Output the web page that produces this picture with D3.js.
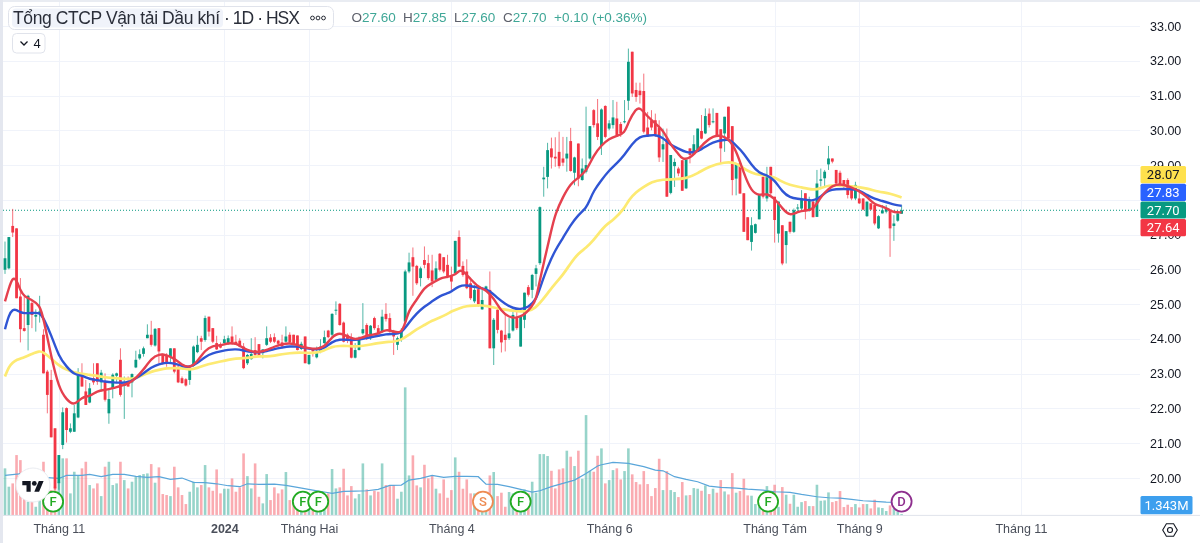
<!DOCTYPE html>
<html lang="vi">
<head>
<meta charset="UTF-8">
<title>Tổng CTCP Vận tải Dầu khí</title>
<script src="https://d3js.org/d3.v7.min.js"></script>
<style>
    html, body { margin: 0; padding: 0; background: #fff; overflow: hidden; }
    svg { display: block; font-family: Roboto, Arial, sans-serif; filter: blur(0.35px); }
    .axis text { fill: #131722; font-size: 12.5px; }
    .axis path, .axis line { display: none; }
    .time text { fill: #4a4f5a; font-size: 12.5px; }
    .grid { stroke: #f0f3fa; stroke-width: 1; }
</style>
</head>
<body>
<svg width="1200" height="543"></svg>
<script>
    const opens = [
        25.99,26.03,27.25,27.18,25.22,24.31,24.40,25.03,24.64,24.74,
        24.12,23.06,22.82,21.43,19.85,20.95,22.01,21.33,21.33,21.74,
        23.01,22.49,22.17,22.87,23.30,22.75,22.77,21.86,22.58,22.94,
        23.40,22.65,22.77,22.75,23.18,23.44,23.57,24.02,24.12,23.81,
        24.31,23.54,23.52,23.49,23.73,23.20,22.87,22.84,22.82,23.23,
        23.62,24.02,23.97,24.64,24.31,23.88,23.85,23.88,23.88,24.07,
        23.92,23.95,23.78,23.30,23.42,23.68,23.85,23.59,23.83,24.04,
        24.05,23.95,23.90,23.92,24.12,24.12,24.10,23.71,24.07,23.28,
        23.71,23.47,23.64,23.88,24.24,24.12,24.82,25.01,24.47,24.12,
        24.05,23.46,23.68,24.16,24.40,24.02,24.60,24.31,24.21,24.72,
        24.60,24.21,23.83,23.97,24.50,25.94,26.35,26.10,25.75,26.27,
        26.18,25.97,25.70,26.45,26.35,26.13,25.84,25.89,26.93,26.10,
        25.94,25.60,25.08,25.43,24.85,25.41,25.41,23.73,24.84,24.24,
        24.12,24.02,24.24,24.60,23.78,24.55,25.49,25.41,25.87,26.18,
        28.59,28.66,29.48,29.24,29.38,29.19,29.19,29.69,28.78,29.62,
        28.57,28.81,29.19,30.58,30.20,29.55,30.70,30.05,30.15,30.34,
        30.18,30.24,30.85,32.26,31.16,31.14,31.13,30.08,30.29,30.29,
        30.08,29.45,29.76,28.20,28.97,28.90,29.14,28.33,29.48,29.31,
        29.38,29.98,29.91,30.48,30.24,30.50,30.03,29.91,30.68,30.12,
        28.61,29.05,28.19,27.50,26.79,27.05,27.44,28.66,28.04,28.95,
        28.09,27.03,27.27,26.70,27.37,27.08,27.75,27.75,28.19,27.70,
        27.95,27.51,28.55,28.62,29.02,29.19,28.86,28.78,28.57,28.57,
        28.38,28.04,28.04,28.04,27.53,27.90,27.85,27.18,27.61,27.66,
        27.69,27.25,27.40,27.60
    ];
    const highs = [
        26.80,26.93,27.74,27.18,25.75,25.22,25.27,25.08,24.85,25.24,
        24.28,23.11,23.11,21.43,20.66,22.03,22.03,21.57,22.10,23.16,
        23.30,22.82,22.73,23.30,23.30,23.11,23.01,22.53,23.01,23.03,
        23.73,22.92,22.92,23.01,23.66,23.70,23.78,24.42,24.52,24.31,
        24.31,23.59,23.59,23.73,23.73,23.25,22.92,22.87,23.20,23.81,
        24.09,24.09,24.67,24.64,24.31,24.09,23.90,24.09,24.10,24.36,
        24.12,24.02,23.88,23.57,24.02,24.05,23.85,23.70,24.36,24.14,
        24.16,23.97,24.12,24.36,24.19,24.12,24.10,23.92,24.07,23.54,
        23.73,23.78,23.99,24.24,24.26,24.74,25.08,25.03,24.50,24.16,
        24.16,23.88,24.07,25.03,24.45,24.40,24.64,24.40,24.84,25.03,
        24.74,24.26,24.07,24.31,25.99,26.48,26.63,26.13,26.08,26.66,
        26.42,26.42,26.23,26.47,26.35,26.42,26.08,26.82,27.12,26.23,
        26.29,25.70,25.55,25.46,25.41,25.53,25.94,24.60,24.88,24.26,
        24.69,24.60,24.84,24.84,24.69,25.33,25.55,25.87,26.13,27.81,
        28.95,29.64,29.79,29.80,29.96,29.81,29.81,30.07,29.24,29.62,
        29.19,30.68,30.12,30.61,30.90,30.63,30.72,30.29,30.87,30.82,
        30.24,30.87,32.35,32.26,31.37,31.37,31.63,30.53,30.58,30.48,
        30.29,30.05,30.05,29.29,29.19,28.95,29.14,29.16,29.48,29.86,
        30.05,30.44,30.63,30.63,30.63,30.50,30.03,30.39,30.68,30.12,
        29.05,29.05,28.19,27.50,27.50,27.32,28.14,28.71,28.95,28.95,
        28.09,27.95,27.27,27.10,27.37,27.75,27.88,28.28,28.19,28.09,
        27.99,28.86,28.90,28.86,29.55,29.19,28.86,28.84,28.57,28.62,
        28.38,28.52,28.30,28.04,27.95,27.90,27.85,27.56,27.85,27.85,
        27.69,27.56,27.63,27.85
    ];
    const lows = [
        25.87,26.00,26.93,25.17,23.90,24.21,23.67,24.31,24.21,24.47,
        23.01,21.86,21.17,19.66,19.66,20.83,21.02,21.29,21.33,21.72,
        22.63,22.10,22.15,22.68,22.68,22.49,22.20,21.56,22.29,22.73,
        22.34,21.70,22.63,22.32,23.16,23.40,23.49,24.02,23.78,23.78,
        23.30,23.25,23.20,23.30,23.01,22.73,22.71,22.63,22.68,23.20,
        23.59,23.68,23.92,24.07,23.88,23.68,23.73,23.83,23.83,23.83,
        23.83,23.76,23.13,23.25,23.40,23.49,23.49,23.44,23.80,23.88,
        23.88,23.78,23.73,23.90,23.88,23.83,23.67,23.68,23.30,23.25,
        23.49,23.44,23.59,23.86,24.02,24.05,24.69,24.38,23.90,23.88,
        23.44,23.44,23.67,24.12,23.97,23.97,24.26,24.12,24.18,24.50,
        24.18,23.54,23.68,23.92,24.45,25.89,25.24,25.55,25.51,26.03,
        25.70,25.49,25.68,25.94,25.89,25.75,25.41,25.84,26.08,25.79,
        25.43,25.12,25.03,24.93,24.84,25.36,23.73,23.25,24.16,23.61,
        23.64,23.97,24.21,24.26,23.78,24.31,25.22,25.17,25.51,26.13,
        28.09,28.33,28.90,28.95,28.90,28.97,28.81,28.81,28.42,28.39,
        28.55,28.76,29.16,30.08,29.72,29.29,29.77,30.00,30.05,29.81,
        29.81,30.20,30.58,30.96,30.82,30.77,29.91,29.81,30.00,29.81,
        29.09,29.09,28.09,28.16,28.37,28.68,28.26,28.31,29.05,29.29,
        29.38,29.74,29.89,30.08,30.20,29.81,29.05,29.38,29.72,28.13,
        28.13,28.18,27.08,26.84,26.54,27.03,27.44,28.04,27.95,28.14,
        26.77,26.77,26.12,26.17,27.03,27.05,27.66,27.70,27.44,27.66,
        27.50,27.51,28.38,28.38,28.86,29.05,28.43,28.38,28.33,28.04,
        27.99,27.99,27.88,27.70,27.51,27.70,27.27,27.16,27.61,27.61,
        26.36,26.82,27.37,27.60
    ];
    const closes = [
        26.32,26.93,27.06,25.17,24.28,24.23,25.24,24.69,24.69,24.79,
        23.01,22.39,21.17,19.70,20.66,21.89,21.38,21.43,21.86,23.01,
        22.63,22.10,22.58,22.75,22.77,23.03,22.25,22.27,22.97,23.01,
        22.39,22.68,22.63,22.99,23.40,23.56,23.73,24.12,23.83,24.29,
        23.64,23.30,23.28,23.73,23.06,22.75,22.73,22.66,23.16,23.78,
        23.83,23.92,24.60,24.21,23.92,23.70,23.75,23.99,24.02,23.90,
        23.83,23.78,23.16,23.54,23.57,23.54,23.51,23.70,24.02,23.92,
        23.92,23.86,23.78,24.07,23.90,23.86,23.68,23.86,23.30,23.54,
        23.64,23.61,23.78,24.05,24.05,24.72,24.84,24.40,23.92,23.97,
        23.46,23.68,24.02,24.28,24.02,24.38,24.31,24.16,24.64,24.57,
        24.21,24.07,24.02,24.21,25.94,26.20,26.08,25.60,26.03,26.13,
        25.75,25.65,26.03,25.99,25.94,25.79,25.65,26.82,26.08,25.84,
        25.46,25.17,25.41,24.98,25.12,25.51,23.73,24.55,24.26,23.90,
        23.97,24.16,24.69,24.31,24.66,25.33,25.27,25.84,26.03,27.79,
        28.64,29.43,29.22,29.19,28.97,29.07,29.33,28.83,29.22,28.61,
        28.90,29.00,30.12,30.15,29.81,30.60,29.81,30.20,30.37,29.86,
        29.91,30.26,31.97,31.06,30.96,31.01,29.96,29.83,30.08,29.88,
        29.22,29.60,28.09,29.29,29.09,28.76,28.26,29.16,29.29,29.60,
        30.05,29.76,30.41,30.15,30.26,29.86,29.48,30.39,29.76,28.57,
        29.03,28.18,27.08,26.84,27.27,27.30,28.14,28.09,28.66,28.19,
        27.42,27.95,26.17,27.10,27.08,27.70,27.78,28.04,27.70,27.99,
        27.50,28.47,28.59,28.81,29.19,29.10,28.47,28.43,28.38,28.14,
        28.04,28.43,27.90,27.72,27.95,27.72,27.32,27.53,27.70,27.75,
        27.18,27.32,27.61,27.70
    ];
    // million shares
    const volumes = [
        4.85,2.96,3.30,6.22,5.70,1.75,1.41,2.61,0.89,1.58,
        5.53,2.96,2.61,2.96,3.47,5.88,5.88,2.27,4.50,4.16,
        4.85,5.53,3.13,2.78,3.30,1.99,5.02,5.53,3.13,3.30,
        5.53,3.64,2.78,3.47,3.99,4.16,4.26,4.33,5.29,3.37,
        4.95,2.20,2.10,1.99,5.02,2.89,2.10,1.17,2.44,3.47,
        2.89,3.13,5.19,2.89,2.54,4.74,2.27,2.75,2.75,3.81,
        2.44,2.89,6.39,4.05,2.78,5.36,1.92,1.24,4.26,1.58,
        2.89,2.27,2.68,4.47,1.58,1.75,1.58,1.41,1.58,1.41,
        1.41,0.89,1.07,0.55,2.27,4.78,2.78,2.89,4.81,2.06,
        3.02,1.75,2.20,5.36,2.68,2.06,2.54,2.44,5.36,3.13,
        3.02,3.13,1.72,2.44,13.2,4.12,6.19,3.09,2.89,5.22,
        3.81,4.16,2.75,2.27,3.71,1.82,2.61,5.98,4.50,2.75,
        3.71,2.27,2.27,1.75,1.58,1.92,4.12,4.47,1.99,2.34,
        0.89,2.41,2.27,1.58,1.58,2.68,2.27,3.47,2.34,6.32,
        6.32,6.12,4.60,2.78,4.74,4.85,6.67,6.05,5.09,6.67,
        3.78,10.34,4.60,4.50,6.15,6.91,3.30,3.64,4.67,4.85,
        3.71,4.57,6.91,4.23,3.44,3.20,4.57,3.23,1.99,2.82,
        5.84,2.61,4.57,2.61,2.41,1.89,3.44,2.06,2.10,2.82,
        2.75,2.54,3.09,2.20,2.75,2.34,3.64,2.47,2.16,4.36,
        2.34,2.51,3.78,2.06,2.03,1.17,0.89,0.48,3.02,0.38,
        3.16,0.89,2.92,2.13,1.20,2.13,0.89,1.37,1.48,0.96,
        0.96,3.16,1.51,1.55,2.37,1.37,1.48,2.51,0.86,1.10,
        0.86,1.17,0.82,1.17,1.17,0.72,1.62,0.82,0.76,0.45,
        1.03,0.72,0.38,0.14
    ];

    // moving averages, read as [bar, value] off the picture
    const maFast = [[0,25.08],[1,25.46],[2,25.78],[3,25.70],[4,25.39],[5,25.22],[7,25.12],[9,24.98],[10,24.60],[12,23.49],[14,22.58],[16,22.25],[18,22.07],[20,22.34],[22,22.34],[24,22.51],[26,22.53],[28,22.58],[30,22.65],[32,22.70],[34,22.87],[36,23.11],[38,23.44],[40,23.57],[42,23.54],[44,23.44],[46,23.25],[48,23.16],[50,23.35],[52,23.68],[54,23.81],[56,23.81],[58,23.88],[60,23.88],[62,23.73],[64,23.64],[66,23.61],[68,23.68],[70,23.78],[72,23.85],[74,23.88],[76,23.83],[77,23.78],[79,23.73],[81,23.71],[83,23.76],[85,24.07],[87,24.19],[89,24.07],[91,23.97],[93,24.05],[95,24.12],[97,24.14],[99,24.28],[101,24.21],[103,24.16],[104,24.45],[105,24.84],[107,25.12],[109,25.49],[111,25.60],[113,25.75],[115,25.78],[117,25.84],[118,25.97],[119,25.97],[121,25.72],[123,25.49],[125,25.41],[127,25.17],[129,24.79],[131,24.62],[133,24.60],[135,24.69],[137,24.95],[138,25.12],[139,25.70],[140,26.18],[142,27.14],[143,27.60],[145,28.09],[147,28.47],[149,28.64],[151,28.81],[153,29.29],[155,29.57],[157,29.76],[159,29.84],[161,29.91],[162,30.24],[164,30.63],[165,30.66],[167,30.39],[169,30.20],[171,30.01],[173,29.57],[175,29.33],[176,29.16],[178,29.19],[180,29.43],[182,29.67],[184,29.83],[186,29.86],[188,29.76],[190,29.43],[192,28.76],[194,28.23],[196,28.12],[198,28.19],[200,28.04],[202,27.75],[204,27.53],[206,27.66],[208,27.70],[210,27.70],[212,28.09],[214,28.33],[216,28.45],[218,28.44],[220,28.36],[222,28.25],[224,28.09],[226,27.85],[228,27.82],[230,27.70],[231,27.64],[233,27.64]];
    const maMid = [[0,24.28],[1,24.69],[2,24.85],[3,24.84],[4,24.76],[5,24.74],[7,24.74],[9,24.77],[10,24.60],[12,24.12],[14,23.49],[16,23.20],[18,22.97],[20,22.95],[22,22.84],[24,22.82],[26,22.77],[28,22.75],[30,22.74],[32,22.74],[34,22.87],[36,23.01],[38,23.18],[40,23.28],[42,23.32],[44,23.30],[46,23.22],[48,23.18],[50,23.30],[52,23.49],[54,23.59],[56,23.64],[58,23.69],[60,23.71],[62,23.67],[64,23.62],[66,23.61],[68,23.65],[70,23.71],[72,23.75],[74,23.79],[76,23.78],[77,23.76],[81,23.68],[83,23.73],[85,23.92],[87,23.99],[89,23.97],[91,23.97],[93,24.00],[95,24.05],[97,24.09],[99,24.14],[101,24.14],[103,24.16],[105,24.47],[107,24.74],[109,24.93],[111,25.08],[113,25.24],[115,25.31],[116,25.36],[118,25.53],[120,25.55],[122,25.49],[124,25.46],[126,25.39],[128,25.17],[130,25.01],[132,24.88],[134,24.85],[136,24.91],[138,25.12],[139,25.46],[141,26.08],[143,26.56],[145,26.90],[147,27.28],[149,27.57],[151,27.76],[152,28.00],[153,28.26],[155,28.57],[157,28.85],[159,29.05],[161,29.29],[163,29.62],[165,29.83],[167,29.84],[169,29.88],[171,29.79],[173,29.57],[175,29.48],[177,29.36],[179,29.36],[181,29.45],[183,29.60],[185,29.69],[187,29.72],[188,29.75],[190,29.57],[192,29.34],[194,29.00],[196,28.76],[198,28.71],[200,28.57],[202,28.23],[204,28.06],[206,28.03],[208,28.01],[210,27.96],[212,28.09],[214,28.28],[216,28.31],[218,28.31],[220,28.31],[222,28.28],[224,28.14],[226,28.02],[228,27.97],[230,27.90],[231,27.86],[233,27.83]];
    const maSlow = [[0,22.92],[1,23.20],[2,23.32],[3,23.40],[5,23.47],[7,23.57],[9,23.66],[10,23.61],[12,23.44],[14,23.23],[16,23.11],[18,23.03],[20,22.99],[22,22.97],[24,22.94],[26,22.89],[28,22.88],[30,22.86],[32,22.84],[34,22.87],[36,22.97],[38,23.06],[40,23.11],[42,23.16],[44,23.16],[46,23.16],[48,23.11],[50,23.16],[52,23.25],[54,23.30],[56,23.35],[58,23.40],[60,23.44],[62,23.44],[64,23.47],[66,23.51],[68,23.49],[70,23.52],[72,23.56],[74,23.59],[76,23.61],[81,23.59],[83,23.67],[85,23.78],[87,23.80],[89,23.80],[91,23.78],[93,23.80],[95,23.84],[97,23.88],[99,23.91],[101,23.92],[103,23.97],[105,24.12],[107,24.28],[109,24.40],[111,24.53],[113,24.61],[115,24.72],[116,24.79],[118,24.88],[120,24.95],[122,24.96],[124,24.97],[126,24.93],[128,24.88],[130,24.84],[132,24.81],[134,24.79],[136,24.79],[138,24.91],[139,25.03],[141,25.31],[143,25.60],[145,25.84],[147,26.18],[149,26.47],[151,26.61],[153,26.85],[154,26.99],[156,27.27],[158,27.41],[161,27.75],[162,27.99],[164,28.23],[166,28.37],[168,28.52],[171,28.59],[174,28.59],[177,28.61],[180,28.76],[183,28.97],[187,29.09],[190,29.07],[192,28.90],[194,28.78],[196,28.71],[200,28.66],[201,28.57],[204,28.42],[207,28.36],[210,28.28],[212,28.33],[214,28.42],[217,28.42],[221,28.38],[224,28.33],[227,28.23],[230,28.19],[233,28.07]];
    const maVolume = [[0,4.12],[5,4.33],[10,3.92],[14,3.81],[16,4.12],[20,4.12],[22,4.23],[25,3.99],[28,4.23],[31,4.23],[34,4.02],[37,3.92],[40,3.99],[43,3.71],[46,3.85],[49,3.40],[52,3.37],[55,3.26],[58,3.06],[61,2.96],[63,3.26],[66,3.20],[70,3.23],[73,3.09],[76,2.89],[80,2.61],[83,2.41],[85,2.27],[88,2.47],[91,2.51],[94,2.54],[97,2.68],[100,3.09],[103,3.13],[105,3.64],[108,3.81],[111,4.12],[114,3.92],[117,4.02],[120,4.02],[123,3.99],[125,3.23],[128,3.20],[131,2.96],[134,2.68],[137,2.41],[139,2.54],[142,2.96],[145,3.30],[148,3.64],[151,4.33],[154,5.09],[155,5.22],[158,5.46],[162,5.36],[166,5.02],[169,4.67],[171,4.60],[174,3.99],[177,3.71],[180,3.47],[183,3.02],[186,2.89],[190,2.82],[193,2.71],[197,2.61],[200,2.44],[204,2.37],[207,2.16],[211,1.92],[214,1.82],[217,1.79],[220,1.65],[223,1.51],[226,1.44],[229,1.37],[233,1.343]];

    const priceTicks = [20,21,22,23,24,25,26,27,28,29,30,31,32,33];
    // 28.00 sits fully behind the value tags in the reference
    const priceLabels = [20,21,22,23,24,25,26,27,29,30,31,32,33];
    const timeBars = [14,57,79,116,157,200,222,264];
    const timeLabels = ["Tháng 11","2024","Tháng Hai","Tháng 4","Tháng 6","Tháng Tám","Tháng 9","Tháng 11"];
    const eventBars = [12.5,77.4,81.4,124.2,134,198.3,233];
    const eventLetters = ["F","F","F","S","F","F","D"];
    const lastLabels = ["28.07","27.83","27.70","27.64"];
    const legendKeys = ["O","H","L","C"];
    const legendValues = ["27.60","27.85","27.60","27.70"];

    const UP = "#089981", DOWN = "#f23645";
    const paneRight = 1140, paneBottom = 515.4;

    const svg = d3.select("svg");
    const x = d3.scaleLinear().domain([0, 233]).range([5, 901.6]);
    const y = d3.scaleLinear().domain([20, 33]).range([478, 26]);
    const yVol = d3.scaleLinear().domain([0, 1]).range([paneBottom, paneBottom - 9.7]);
    const bars = d3.range(opens.length);
    const isUp = i => closes[i] >= opens[i];

    // page edges
    svg.append("rect").attr("width", 1200).attr("height", 2).attr("fill", "#e9ecf2");
    svg.append("rect").attr("width", 3).attr("height", 543).attr("fill", "#e4e7ef");

    // grid
    svg.append("g").selectAll("line").data(priceTicks).join("line")
        .attr("class", "grid")
        .attr("x1", 3).attr("x2", paneRight)
        .attr("y1", d => Math.round(y(d)) + 0.5).attr("y2", d => Math.round(y(d)) + 0.5);
    svg.append("g").selectAll("line").data(timeBars).join("line")
        .attr("class", "grid")
        .attr("y1", 2).attr("y2", paneBottom)
        .attr("x1", d => Math.round(x(d)) + 0.5).attr("x2", d => Math.round(x(d)) + 0.5);

    // volume
    svg.append("g").selectAll("rect").data(bars).join("rect")
        .attr("x", i => x(i) - 1.3)
        .attr("width", 2.6)
        .attr("y", i => yVol(volumes[i]))
        .attr("height", i => paneBottom - yVol(volumes[i]))
        .attr("fill", i => isUp(i) ? UP : DOWN)
        .attr("fill-opacity", 0.42);

    svg.append("path").datum(maVolume)
        .attr("fill", "none").attr("stroke", "#5aa6da").attr("stroke-width", 1.2)
        .attr("d", d3.line().x(d => x(d[0])).y(d => yVol(d[1])));

    // last price line
    svg.append("line")
        .attr("x1", 3).attr("x2", paneRight)
        .attr("y1", y(27.7)).attr("y2", y(27.7))
        .attr("stroke", UP).attr("stroke-width", 1).attr("stroke-dasharray", "1 2");

    // candles
    const candles = svg.append("g").selectAll("g").data(bars).join("g");
    candles.append("line")
        .attr("x1", i => x(i)).attr("x2", i => x(i))
        .attr("y1", i => y(highs[i])).attr("y2", i => y(lows[i]))
        .attr("stroke", i => isUp(i) ? UP : DOWN)
        .attr("stroke-width", 1).attr("stroke-opacity", 0.7);
    candles.append("rect")
        .attr("x", i => x(i) - 1.4)
        .attr("width", 2.8)
        .attr("y", i => y(Math.max(opens[i], closes[i])))
        .attr("height", i => Math.max(1, Math.abs(y(opens[i]) - y(closes[i]))))
        .attr("fill", i => isUp(i) ? UP : DOWN);

    // moving averages
    const maLine = d3.line().x(d => x(d[0])).y(d => y(d[1])).curve(d3.curveBasis);
    [[maSlow, "#fdea72", 2.7], [maMid, "#2f55d4", 2.4], [maFast, "#e5404e", 2.4]].forEach(([data, color, w]) => {
        svg.append("path").datum(data)
            .attr("fill", "none").attr("stroke", color)
            .attr("stroke-width", w).attr("stroke-linejoin", "round")
            .attr("d", maLine);
    });

    // axes
    svg.append("g").attr("class", "axis")
        .attr("transform", `translate(${paneRight},0)`)
        .call(d3.axisRight(y).tickValues(priceLabels).tickFormat(d3.format(".2f")).tickSize(0).tickPadding(10));

    const timeAxis = d3.axisBottom(x).tickValues(timeBars)
        .tickFormat((d, i) => timeLabels[i]).tickSize(0).tickPadding(9);
    svg.append("g").attr("class", "axis time")
        .attr("transform", `translate(0,${paneBottom})`)
        .call(timeAxis)
        .selectAll("text")
        .style("font-weight", (d, i) => timeLabels[i] === "2024" ? 700 : 400);

    // separators
    svg.append("line").attr("x1", 3).attr("x2", 1200)
        .attr("y1", paneBottom).attr("y2", paneBottom)
        .attr("stroke", "#e0e3eb");

    // last value tags
    const tagFill = ["#ffe14d", "#2962ff", UP, DOWN];
    const tagText = ["#131722", "#fff", "#fff", "#fff"];
    const tags = svg.append("g").selectAll("g").data(lastLabels).join("g")
        .attr("transform", (d, i) => `translate(1140.5,${166 + i * 17.7})`);
    tags.append("rect").attr("width", 45.5).attr("height", 17.2).attr("rx", 1.5)
        .attr("fill", (d, i) => tagFill[i]);
    tags.append("text").text(d => d)
        .attr("x", 22.7).attr("y", 13.2).attr("text-anchor", "middle")
        .attr("font-size", 13).attr("fill", (d, i) => tagText[i]);

    svg.append("rect").attr("x", 1140.5).attr("y", 496).attr("width", 52).attr("height", 18.3)
        .attr("rx", 1.5).attr("fill", "#3d9fee");
    svg.append("text").text("1.343M")
        .attr("x", 1166.5).attr("y", 509.5).attr("text-anchor", "middle")
        .attr("font-size", 13).attr("fill", "#fff");

    // dividend / earnings markers
    const eventColor = { F: "#22ab22", S: "#ee8a50", D: "#8e2f8e" };
    const events = svg.append("g").selectAll("g").data(eventBars).join("g")
        .attr("transform", d => `translate(${x(d)},501.6)`);
    events.append("circle").attr("r", 10)
        .attr("fill", "#fff").attr("stroke-width", 1.8)
        .attr("stroke", (d, i) => eventColor[eventLetters[i]]);
    events.append("text").text((d, i) => eventLetters[i])
        .attr("y", 4.6).attr("text-anchor", "middle")
        .attr("font-size", 13).attr("font-weight", 500)
        .attr("fill", (d, i) => eventColor[eventLetters[i]]);

    // TV logo
    svg.append("circle").attr("cx", 33).attr("cy", 485).attr("r", 17)
        .attr("fill", "#fff").attr("stroke", "#e9ebf0");
    const logo = svg.append("g").attr("transform", "translate(22.3,478.6) scale(0.6)");
    logo.append("path").attr("fill", "#131722")
        .attr("d", "M14 22H7V11H0V4h14v18zM28 22h-8l7.5-18h8L28 22z");
    logo.append("circle").attr("cx", 20).attr("cy", 8).attr("r", 4).attr("fill", "#131722");

    // settings icon
    const gear = svg.append("g").attr("transform", "translate(1170,530)")
        .attr("fill", "none").attr("stroke", "#131722").attr("stroke-width", 1.1);
    gear.append("path").attr("d", "M-7.3 0L-3.6 -6.3H3.6L7.3 0L3.6 6.3H-3.6Z");
    gear.append("circle").attr("r", 2.5);

    // header
    svg.append("rect").attr("x", 8.5).attr("y", 6.5).attr("width", 325).attr("height", 23).attr("rx", 6)
        .attr("fill", "#fff").attr("stroke", "#e0e3eb");
    svg.append("rect").attr("x", 12).attr("y", 8.5).attr("width", 211).attr("height", 19).attr("rx", 4)
        .attr("fill", "#f0f3fa");
    svg.append("text").text("Tổng CTCP Vận tải Dầu khí")
        .attr("x", 13).attr("y", 24).attr("font-size", 17.5).attr("fill", "#2a2e39")
        .attr("font-family", "'Liberation Sans', Arial, sans-serif").attr("textLength", 207);
    svg.append("text").text("· 1D · HSX")
        .attr("x", 224).attr("y", 24).attr("font-size", 17.5).attr("fill", "#2a2e39")
        .attr("font-family", "'Liberation Sans', Arial, sans-serif").attr("textLength", 76);
    svg.append("g").selectAll("circle").data([0, 1, 2]).join("circle")
        .attr("cx", d => 312.5 + d * 5.5).attr("cy", 18).attr("r", 1.9)
        .attr("fill", "none").attr("stroke", "#131722").attr("stroke-width", 0.9);

    svg.append("rect").attr("x", 12.5).attr("y", 33.5).attr("width", 32.5).attr("height", 19.5).attr("rx", 4)
        .attr("fill", "#fff").attr("stroke", "#e0e3eb");
    svg.append("path").attr("d", "M20.5 41.5L24 45L27.5 41.5")
        .attr("fill", "none").attr("stroke", "#131722").attr("stroke-width", 1.3);
    svg.append("text").text("4").attr("x", 33.5).attr("y", 48)
        .attr("font-size", 13).attr("fill", "#131722")
        .attr("font-family", "'Liberation Sans', Arial, sans-serif");

    // OHLC legend
    const legendX = [351.5, 403, 454, 503];
    const legendFont = "'Liberation Sans', Arial, sans-serif";
    legendKeys.forEach((k, i) => {
        const t = svg.append("text").attr("x", legendX[i]).attr("y", 22)
            .attr("font-size", 13.5).attr("font-family", legendFont);
        t.append("tspan").text(k).attr("fill", "#5d606b");
        t.append("tspan").text(legendValues[i]).attr("fill", "#3fa797");
    });
    svg.append("text").text("+0.10 (+0.36%)")
        .attr("x", 554).attr("y", 22).attr("font-size", 13.5)
        .attr("font-family", legendFont).attr("fill", "#3fa797");
</script>
</body>
</html>
